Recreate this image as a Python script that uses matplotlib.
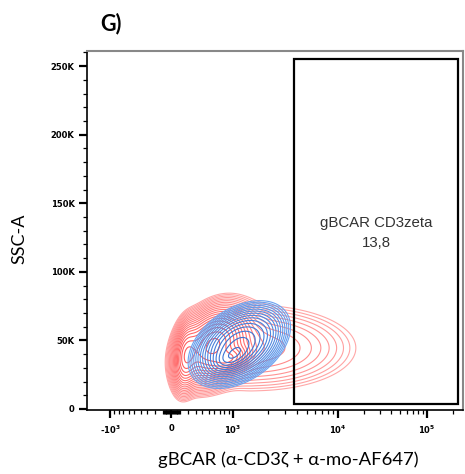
import numpy as np
import matplotlib
matplotlib.use("Agg")
import matplotlib.pyplot as plt
from matplotlib.patches import Rectangle

# ---------------- data ----------------
x_major = [-1000, 0, 1000, 10000, 100000]
x_major_labels = ["-10$^{3}$", "0", "10$^{3}$", "10$^{4}$", "10$^{5}$"]
x_minor = ([-v for v in range(100, 1000, 100)] + [-v for v in range(10, 100, 10)]
           + list(range(10, 100, 10)) + list(range(100, 1000, 100))
           + list(range(2000, 10000, 1000)) + list(range(20000, 100000, 10000))
           + [200000])
y_major = [0, 50000, 100000, 150000, 200000, 250000]
y_major_labels = ["0", "50K", "100K", "150K", "200K", "250K"]
y_minor = list(range(10000, 270000, 10000))

# population components: centre x (data), centre y (data), left / right spread
# (display units), spread y (data), correlation, weight
red_cx = [560, 170, 960, 1510]
red_cy = [46000, 38000, 36000, 44500]
red_sxl = [17, 6.5, 10, 25]
red_sxr = [17, 6.5, 10, 56]
red_sy = [13800, 12500, 5000, 17000]
red_rho = [0.3, 0.2, 0.4, 0.0]
red_w = [1.0, 0.55, 0.45, 0.14]

blue_cx = [1150, 960]
blue_cy = [47000, 37500]
blue_sxl = [20, 10]
blue_sxr = [20, 10]
blue_sy = [12500, 5500]
blue_rho = [0.4, 0.5]
blue_w = [1.0, 0.45]

gate_x = [3725, 229000]
gate_y = [3600, 255000]
gate_name = "gBCAR CD3zeta"
gate_value = "13,8"

# ---------------- scale ----------------
C = 500.0
anchor_vals = np.array([0, 1000, 2000, 10000, 100000, 262144, 1e7])
anchor_pos = np.array([172, 233, 268, 338, 427, 463.4, 600.6]) - 172.0
U_pos = np.arcsinh(anchor_vals / C)
U_all = np.concatenate([-U_pos[::-1][:-1], U_pos])
P_all = np.concatenate([-anchor_pos[::-1][:-1], anchor_pos])


def fwd(x):
    u = np.arcsinh(np.asarray(x, dtype=float) / C)
    return np.interp(u, U_all, P_all)


def inv(p):
    u = np.interp(np.asarray(p, dtype=float), P_all, U_all)
    return C * np.sinh(u)


XMIN, XMAX = -1600, 262144
YMIN, YMAX = -730, 261000

plt.rcParams["mathtext.default"] = "bf"
fig = plt.figure(figsize=(4.65, 4.74), dpi=100)
ax = fig.add_axes([87 / 465, (474 - 410) / 474, (463 - 87) / 465, (410 - 51) / 474])
ax.set_xscale("function", functions=(fwd, inv))
ax.set_xlim(XMIN, XMAX)
ax.set_ylim(YMIN, YMAX)

# density grid
px = np.linspace(fwd(XMIN), fwd(XMAX), 700)
gx = inv(px)
gy = np.linspace(YMIN, YMAX, 700)
PX, GY = np.meshgrid(px, gy)
GX, _ = np.meshgrid(gx, gy)


def density(cx, cy, sxl, sxr, sy, rho, w):
    Z = np.zeros_like(PX)
    for a, b, s1l, s1r, s2, r, ww in zip(cx, cy, sxl, sxr, sy, rho, w):
        d = PX - fwd(a)
        dx = np.where(d < 0, d / s1l, d / s1r)
        dy = (GY - b) / s2
        q = (dx * dx - 2 * r * dx * dy + dy * dy) / (1 - r * r)
        Z += ww * np.exp(-0.5 * q)
    return Z


Zr = density(red_cx, red_cy, red_sxl, red_sxr, red_sy, red_rho, red_w)
Zb = density(blue_cx, blue_cy, blue_sxl, blue_sxr, blue_sy, blue_rho, blue_w)

nr, nb = 20, 16
lev_r = Zr.max() * np.geomspace(0.025, 0.93, nr)
lev_b = Zb.max() * np.geomspace(0.03, 0.93, nb)
col_r = [(1.0, 0.66 - 0.32 * t, 0.66 - 0.32 * t) for t in np.linspace(0, 1, nr)]
col_b = [(0.42 - 0.2 * t, 0.64 - 0.2 * t, 0.94 - 0.12 * t) for t in np.linspace(0, 1, nb)]
ax.contour(GX, GY, Zr, levels=lev_r, colors=col_r, linewidths=0.8)
ax.contour(GX, GY, Zb, levels=lev_b, colors=col_b, linewidths=0.8)

# gate
ax.add_patch(Rectangle((gate_x[0], gate_y[0]), gate_x[1] - gate_x[0], gate_y[1] - gate_y[0],
                       fill=False, edgecolor="black", linewidth=1.6, zorder=5))
gcx = inv((fwd(gate_x[0]) + fwd(gate_x[1])) / 2)
ax.text(gcx, 135600, gate_name, ha="center", va="center", fontsize=10.8,
        family="Liberation Sans", color="#333333")
ax.text(gcx, 121000, gate_value, ha="center", va="center", fontsize=10.8,
        family="Liberation Sans", color="#333333")

# ticks
ax.set_xticks(x_major)
ax.set_xticklabels(x_major_labels)
ax.set_xticks(x_minor, minor=True)
ax.set_yticks(y_major)
ax.set_yticklabels(y_major_labels)
ax.set_yticks(y_minor, minor=True)
for lab in ax.get_xticklabels() + ax.get_yticklabels():
    lab.set_fontsize(6)
    lab.set_fontweight("bold")
ax.tick_params(axis="both", which="major", length=6, width=1.6, direction="out", pad=3)
ax.tick_params(axis="both", which="minor", length=3, width=0.9, direction="out")
ax.tick_params(axis="x", which="major", pad=4)

for s in ["left", "bottom"]:
    ax.spines[s].set_color("black")
    ax.spines[s].set_linewidth(1.2)
for s in ["top", "right"]:
    ax.spines[s].set_color("#888888")
    ax.spines[s].set_linewidth(1.5)

fam = ["Lato", "DejaVu Sans"]
fig.text(111 / 465, 1 - 24 / 474, "G)", ha="center", va="center", fontsize=15.5,
         fontweight="bold", family=fam)
fig.text(288 / 465, 1 - 460 / 474, "gBCAR (α-CD3ζ + α-mo-AF647)", ha="center",
         va="center", fontsize=13.3, family=fam)
fig.text(19 / 465, 1 - 239 / 474, "SSC-A", ha="center", va="center", fontsize=13,
         rotation=90, family=fam)

fig.savefig("out.png", dpi=100)
